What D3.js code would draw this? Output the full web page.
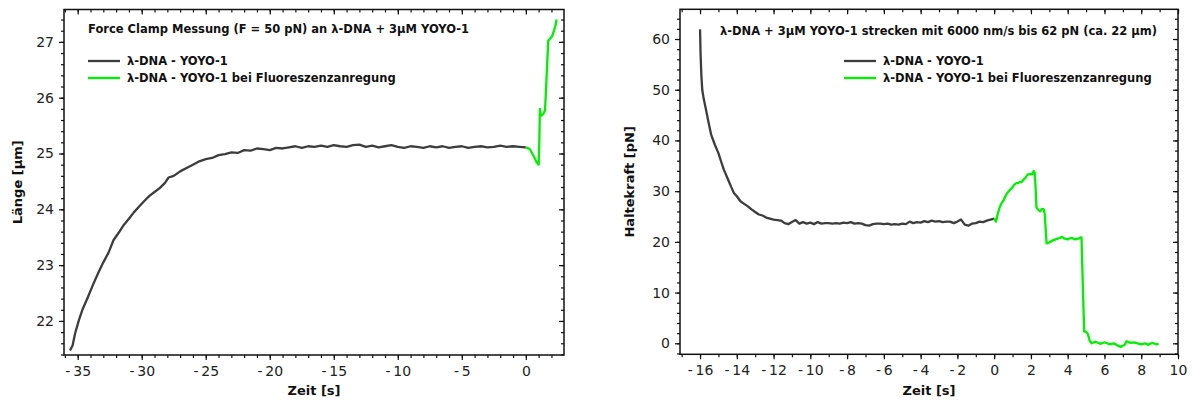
<!DOCTYPE html>
<html><head><meta charset="utf-8">
<script src="https://cdn.jsdelivr.net/npm/d3@7"></script>
<style>body{margin:0;background:#fff}svg{display:block}</style>
</head><body>
<svg id="c" width="1192" height="405"></svg>
<script>
// ---- Left panel data: Länge vs Zeit ----
const leftGrayT = [-35.6,-35.4,-35.2,-34.9,-34.6,-34.2,-33.8,-33.4,-33.0,-32.6,-32.2,-31.8,-31.4,-31.0,-30.6,-30.2,-29.8,-29.4,-29.0,-28.6,-28.2,-27.9,-27.5,-27.0,-26.5,-26.0,-25.5,-25.0,-24.5,-24.0,-23.5,-23.0,-22.5,-22.0,-21.5,-21.0,-20.5,-20.0,-19.5,-19.0,-18.5,-18.0,-17.5,-17.0,-16.5,-16.0,-15.5,-15.0,-14.5,-14.0,-13.5,-13.0,-12.5,-12.0,-11.5,-11.0,-10.5,-10.0,-9.5,-9.0,-8.5,-8.0,-7.5,-7.0,-6.5,-6.0,-5.5,-5.0,-4.5,-4.0,-3.5,-3.0,-2.5,-2.0,-1.5,-1.0,-0.5,0.0];
const leftGrayL = [21.47,21.56,21.78,22.02,22.22,22.43,22.65,22.86,23.05,23.22,23.45,23.58,23.72,23.83,23.95,24.05,24.15,24.24,24.31,24.38,24.47,24.57,24.6,24.68,24.74,24.8,24.86,24.9,24.92,24.97,24.99,25.02,25.01,25.06,25.05,25.09,25.08,25.06,25.1,25.09,25.11,25.13,25.1,25.13,25.12,25.14,25.12,25.15,25.13,25.12,25.15,25.16,25.12,25.14,25.11,25.13,25.15,25.12,25.1,25.13,25.12,25.1,25.13,25.11,25.13,25.1,25.12,25.13,25.1,25.12,25.13,25.11,25.12,25.14,25.12,25.13,25.12,25.11];
const leftGreenT = [0.0,0.3,0.6,0.85,1.0,1.05,1.1,1.15,1.25,1.4,1.5,1.75,1.9,2.05,2.2,2.3,2.41];
const leftGreenL = [25.11,25.08,24.96,24.84,24.8,25.2,25.8,25.7,25.68,25.72,25.78,27.02,27.06,27.1,27.2,27.28,27.4];
const leftXTicks = [-35,-30,-25,-20,-15,-10,-5,0];
const leftYTicks = [22,23,24,25,26,27];

// ---- Right panel data: Haltekraft vs Zeit ----
const rightGrayT = [-16.0,-15.97,-15.93,-15.88,-15.8,-15.7,-15.55,-15.4,-15.2,-15.0,-14.85,-14.7,-14.5,-14.3,-14.15,-14.0,-13.8,-13.6,-13.4,-13.2,-13.0,-12.8,-12.6,-12.4,-12.2,-12.0,-11.8,-11.6,-11.4,-11.2,-11.0,-10.8,-10.6,-10.4,-10.2,-10.0,-9.8,-9.6,-9.4,-9.2,-9.0,-8.8,-8.6,-8.4,-8.2,-8.0,-7.8,-7.6,-7.4,-7.2,-7.0,-6.8,-6.6,-6.4,-6.2,-6.0,-5.8,-5.6,-5.4,-5.2,-5.0,-4.8,-4.6,-4.4,-4.2,-4.0,-3.8,-3.6,-3.4,-3.2,-3.0,-2.8,-2.6,-2.4,-2.2,-2.0,-1.8,-1.6,-1.4,-1.2,-1.0,-0.8,-0.6,-0.4,-0.2,0.0];
const rightGrayF = [61.9,57,53,50,48.2,46.5,43.8,41.2,39.2,37.5,35.8,34.2,32.5,30.8,29.6,29.0,28.0,27.5,27.0,26.4,25.9,25.4,25.2,24.8,24.6,24.4,24.3,24.2,23.7,23.5,23.9,24.3,23.6,23.9,23.6,23.8,23.5,23.9,23.6,23.7,23.7,23.6,23.7,23.6,23.8,23.7,23.9,23.6,23.7,23.6,23.3,23.2,23.5,23.6,23.6,23.5,23.6,23.4,23.5,23.4,23.6,23.5,24.0,23.7,23.9,23.8,24.1,23.9,24.2,24.0,24.1,23.9,24.0,24.0,23.7,24.0,24.4,23.4,23.2,23.6,23.7,24.0,23.9,24.2,24.4,24.6];
const rightGreenT = [0.0,0.1,0.2,0.3,0.4,0.5,0.6,0.7,0.8,0.9,1.0,1.1,1.2,1.3,1.4,1.5,1.6,1.7,1.8,1.9,2.0,2.1,2.15,2.2,2.25,2.3,2.4,2.5,2.6,2.7,2.75,2.85,3.0,3.2,3.4,3.6,3.7,3.8,4.0,4.2,4.4,4.6,4.75,4.85,4.9,5.0,5.1,5.2,5.3,5.5,5.8,6.0,6.3,6.5,6.7,6.9,7.1,7.2,7.4,7.6,7.8,8.0,8.2,8.4,8.6,8.8,8.95];
const rightGreenF = [24.6,24.0,25.6,26.8,27.6,28.1,28.9,29.6,30.0,30.4,30.8,31.3,31.6,31.6,31.8,31.8,32.3,32.6,33.2,33.4,33.3,33.4,34.0,33.7,31.0,26.8,26.3,26.0,26.5,26.4,25.5,19.7,19.9,20.3,20.6,20.8,21.0,20.7,20.5,20.8,20.5,20.7,20.9,8,2.3,2.3,1.8,0.5,0.0,0.3,-0.1,0.2,-0.2,0.0,-0.4,-0.7,-0.3,0.4,0.1,0.2,0.0,-0.2,0.0,-0.3,0.1,-0.2,-0.1];
const rightXTicks = [-16,-14,-12,-10,-8,-6,-4,-2,0,2,4,6,8,10];
const rightYTicks = [0,10,20,30,40,50,60];

const seriesNames = ["\u03bb-DNA - YOYO-1", "\u03bb-DNA - YOYO-1 bei Fluoreszenzanregung"];
const seriesColors = ["#3d3d3d", "#00ee00"];

const svg = d3.select("#c");
const FONT = "'DejaVu Sans', Verdana, sans-serif";
const fmt = d => d < 0 ? "-\u2009" + Math.abs(d) : String(d);

function panel(o) {
  const x = d3.scaleLinear().domain(o.xDom).range([o.x0, o.x1]);
  const y = d3.scaleLinear().domain(o.yDom).range([o.y1, o.y0]);
  const g = svg.append("g");
  const minorX = d3.range(Math.ceil(o.xDom[0]/o.xMinor), Math.floor(o.xDom[1]/o.xMinor)+1).map(v => +(v*o.xMinor).toFixed(6));
  const minorY = d3.range(Math.ceil(o.yDom[0]/o.yMinor), Math.floor(o.yDom[1]/o.yMinor)+1).map(v => +(v*o.yMinor).toFixed(6));
  const tickStyle = sel => sel.call(s => s.select(".domain").remove())
      .call(s => s.selectAll("line").attr("stroke", "#111").attr("stroke-width", 1.2));
  // minor ticks
  g.append("g").attr("transform", `translate(0,${o.y1})`)
    .call(d3.axisBottom(x).tickValues(minorX).tickSize(3).tickFormat("")).call(tickStyle);
  g.append("g").attr("transform", `translate(0,${o.y0})`)
    .call(d3.axisBottom(x).tickValues(minorX).tickSize(3).tickFormat("")).call(tickStyle);
  g.append("g").attr("transform", `translate(${o.x0},0)`)
    .call(d3.axisLeft(y).tickValues(minorY).tickSize(3).tickFormat("")).call(tickStyle);
  g.append("g").attr("transform", `translate(${o.x1},0)`)
    .call(d3.axisLeft(y).tickValues(minorY).tickSize(3).tickFormat("")).call(tickStyle);
  // major ticks
  const bx = g.append("g").attr("transform", `translate(0,${o.y1})`)
    .call(d3.axisBottom(x).tickValues(o.xTicks).tickSize(5).tickPadding(6).tickFormat(fmt))
    .call(tickStyle);
  bx.selectAll("text").attr("font-family", FONT).attr("font-size", 14).attr("fill", "#222");
  g.append("g").attr("transform", `translate(0,${o.y0})`)
    .call(d3.axisBottom(x).tickValues(o.xTicks).tickSize(5).tickFormat("")).call(tickStyle);
  const ly = g.append("g").attr("transform", `translate(${o.x0},0)`)
    .call(d3.axisLeft(y).tickValues(o.yTicks).tickSize(5).tickPadding(5).tickFormat(fmt)).call(tickStyle);
  ly.selectAll("text").attr("font-family", FONT).attr("font-size", 14).attr("fill", "#222");
  g.append("g").attr("transform", `translate(${o.x1},0)`)
    .call(d3.axisLeft(y).tickValues(o.yTicks).tickSize(5).tickFormat("")).call(tickStyle);
  // frame
  g.append("rect").attr("x", o.x0).attr("y", o.y0).attr("width", o.x1 - o.x0).attr("height", o.y1 - o.y0)
    .attr("fill", "none").attr("stroke", "#111").attr("stroke-width", 1.5);
  // lines
  const line = d3.line().x(d => x(d[0])).y(d => y(d[1]));
  o.series.forEach((s, i) => {
    g.append("path").datum(d3.zip(s.t, s.v)).attr("d", line)
      .attr("fill", "none").attr("stroke", seriesColors[i]).attr("stroke-width", 2.3)
      .attr("stroke-linejoin", "round");
  });
  // title
  g.append("text").attr("x", o.titleX).attr("y", o.titleY).text(o.title)
    .attr("font-family", FONT).attr("font-weight", "bold").attr("font-size", 11.5).attr("fill", "#111");
  // legend
  seriesNames.forEach((n, i) => {
    const ly0 = o.legY + i * 17;
    g.append("line").attr("x1", o.legX).attr("x2", o.legX + 32).attr("y1", ly0).attr("y2", ly0)
      .attr("stroke", seriesColors[i]).attr("stroke-width", 2.3);
    g.append("text").attr("x", o.legX + 39).attr("y", ly0 + 4).text(n)
      .attr("font-family", FONT).attr("font-weight", "bold").attr("font-size", 11.5).attr("fill", "#111");
  });
  // axis titles
  g.append("text").attr("x", (o.x0 + o.x1) / 2).attr("y", 395).attr("text-anchor", "middle")
    .text("Zeit [s]").attr("font-family", FONT).attr("font-weight", "bold").attr("font-size", 13).attr("fill", "#111");
  g.append("text").attr("transform", `translate(${o.yTitleX},${(o.y0 + o.y1) / 2}) rotate(-90)`)
    .attr("text-anchor", "middle").text(o.yTitle)
    .attr("font-family", FONT).attr("font-weight", "bold").attr("font-size", 13).attr("fill", "#111");
}

panel({
  x0: 64, x1: 564, y0: 9.5, y1: 355,
  xDom: [-36.07, 2.98], yDom: [21.39, 27.58],
  xTicks: leftXTicks, yTicks: leftYTicks, xMinor: 1, yMinor: 0.2,
  series: [{t: leftGrayT, v: leftGrayL}, {t: leftGreenT, v: leftGreenL}],
  title: "Force Clamp Messung (F = 50 pN) an \u03bb-DNA + 3\u00b5M YOYO-1", titleX: 88, titleY: 33,
  legX: 88, legY: 61, yTitle: "L\u00e4nge [\u00b5m]", yTitleX: 22
});
panel({
  x0: 680, x1: 1178, y0: 9.3, y1: 354.3,
  xDom: [-17.09, 10], yDom: [-2.17, 65.86],
  xTicks: rightXTicks, yTicks: rightYTicks, xMinor: 1, yMinor: 2,
  series: [{t: rightGrayT, v: rightGrayF}, {t: rightGreenT, v: rightGreenF}],
  title: "\u03bb-DNA + 3\u00b5M YOYO-1 strecken mit 6000 nm/s bis 62 pN (ca. 22 \u00b5m)", titleX: 720, titleY: 35,
  legX: 844, legY: 61, yTitle: "Haltekraft [pN]", yTitleX: 634
});
</script>
</body></html>
